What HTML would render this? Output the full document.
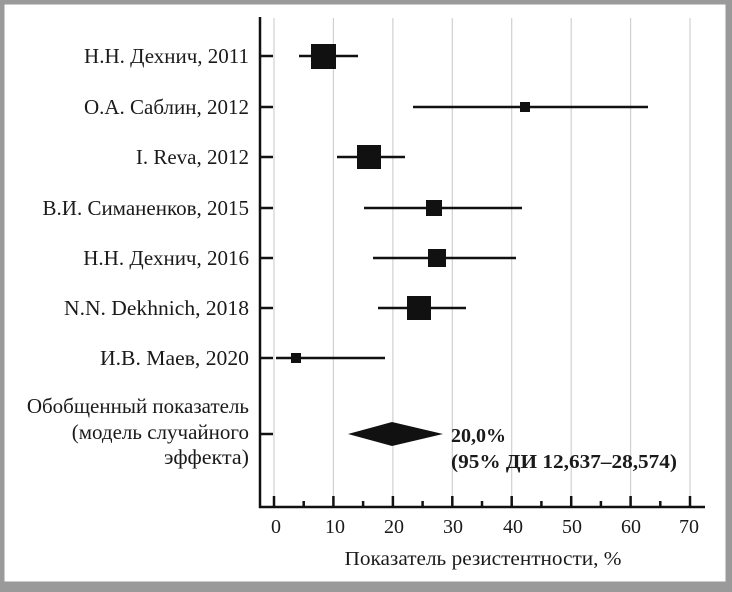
<!DOCTYPE html>
<html><head><meta charset="utf-8"><style>
html,body{margin:0;padding:0;background:#fff}
svg{display:block}
text{font-family:"Liberation Serif","Times New Roman",serif;fill:#1a1a1a}
</style></head><body>
<svg width="732" height="592" viewBox="0 0 732 592" xmlns="http://www.w3.org/2000/svg">
<rect x="0" y="0" width="732" height="592" fill="#fff"/>
<rect x="2" y="2" width="726" height="582" fill="none" stroke="#9a9a9a" stroke-width="5"/>
<rect x="0" y="584" width="732" height="8" fill="#9a9a9a"/>
<rect x="726" y="0" width="6" height="592" fill="#9a9a9a"/>
<g stroke="#d0d0d0" stroke-width="1.2">
<line x1="274" y1="18" x2="274" y2="507"/><line x1="333.4" y1="18" x2="333.4" y2="507"/>
<line x1="392.9" y1="18" x2="392.9" y2="507"/><line x1="452.3" y1="18" x2="452.3" y2="507"/>
<line x1="511.7" y1="18" x2="511.7" y2="507"/><line x1="571.2" y1="18" x2="571.2" y2="507"/>
<line x1="630.6" y1="18" x2="630.6" y2="507"/><line x1="690" y1="18" x2="690" y2="507"/>
</g>
<g stroke="#111" stroke-width="2.5">
<line x1="260" y1="17" x2="260" y2="508"/>
<line x1="259" y1="507" x2="705" y2="507"/>
<line x1="260" y1="56" x2="273" y2="56"/><line x1="260" y1="107" x2="273" y2="107"/>
<line x1="260" y1="157" x2="273" y2="157"/><line x1="260" y1="208" x2="273" y2="208"/>
<line x1="260" y1="258" x2="273" y2="258"/><line x1="260" y1="308" x2="273" y2="308"/>
<line x1="260" y1="358" x2="273" y2="358"/><line x1="260" y1="434" x2="273" y2="434"/>
<line x1="274" y1="507" x2="274" y2="496"/><line x1="333.4" y1="507" x2="333.4" y2="496"/>
<line x1="392.9" y1="507" x2="392.9" y2="496"/><line x1="452.3" y1="507" x2="452.3" y2="496"/>
<line x1="511.7" y1="507" x2="511.7" y2="496"/><line x1="571.2" y1="507" x2="571.2" y2="496"/>
<line x1="630.6" y1="507" x2="630.6" y2="496"/><line x1="690" y1="507" x2="690" y2="496"/>
<line x1="303.7" y1="507" x2="303.7" y2="501"/><line x1="363.1" y1="507" x2="363.1" y2="501"/>
<line x1="422.6" y1="507" x2="422.6" y2="501"/><line x1="482" y1="507" x2="482" y2="501"/>
<line x1="541.4" y1="507" x2="541.4" y2="501"/><line x1="600.9" y1="507" x2="600.9" y2="501"/>
<line x1="660.3" y1="507" x2="660.3" y2="501"/>
</g>
<g stroke="#111" stroke-width="2.5">
<line x1="299" y1="56" x2="358" y2="56"/>
<line x1="413" y1="107" x2="648" y2="107"/>
<line x1="337" y1="157" x2="405" y2="157"/>
<line x1="364" y1="208" x2="522" y2="208"/>
<line x1="373" y1="258" x2="516" y2="258"/>
<line x1="378" y1="308" x2="466" y2="308"/>
<line x1="276" y1="358" x2="385" y2="358"/>
</g>
<g fill="#111">
<rect x="311" y="44" width="25" height="25"/>
<rect x="520" y="102" width="10" height="10"/>
<rect x="357" y="145" width="24" height="24"/>
<rect x="426" y="200" width="16" height="16"/>
<rect x="428" y="249" width="18" height="18"/>
<rect x="407" y="296" width="24" height="24"/>
<rect x="291" y="353" width="10" height="10"/>
<polygon points="348,434 392,422 443,434 392,446"/>
</g>
<g font-size="21" text-anchor="end">
<text x="249" y="63">Н.Н. Дехнич, 2011</text>
<text x="249" y="114">О.А. Саблин, 2012</text>
<text x="249" y="164">I. Reva, 2012</text>
<text x="249" y="215">В.И. Симаненков, 2015</text>
<text x="249" y="265">Н.Н. Дехнич, 2016</text>
<text x="249" y="315" textLength="185" lengthAdjust="spacingAndGlyphs">N.N. Dekhnich, 2018</text>
<text x="249" y="365" textLength="149" lengthAdjust="spacingAndGlyphs">И.В. Маев, 2020</text>
<text x="249" y="413">Обобщенный показатель</text>
<text x="249" y="439">(модель случайного</text>
<text x="249" y="464" textLength="85" lengthAdjust="spacingAndGlyphs">эффекта)</text>
</g>
<g font-size="20" font-weight="bold">
<text x="451" y="442">20,0%</text>
<text x="451" y="468" textLength="226" lengthAdjust="spacingAndGlyphs">(95% ДИ 12,637–28,574)</text>
</g>
<g font-size="20" text-anchor="middle">
<text x="276" y="533">0</text><text x="335" y="533">10</text><text x="394" y="533">20</text>
<text x="453" y="533">30</text><text x="513" y="533">40</text><text x="572" y="533">50</text>
<text x="631" y="533">60</text><text x="689" y="533">70</text>
<text x="483" y="565" textLength="277" lengthAdjust="spacingAndGlyphs">Показатель резистентности, %</text>
</g>
</svg>
</body></html>
